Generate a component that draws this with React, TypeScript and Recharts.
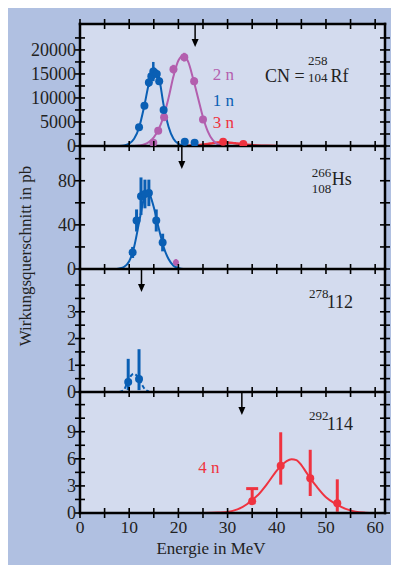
import React from 'react';
import { ComposedChart, Line, Scatter, XAxis, YAxis, ErrorBar } from 'recharts';

const FONT = '"Liberation Serif", "DejaVu Serif", serif';
const BLUE = '#0a5fb4';
const MAGENTA = '#b35fae';
const RED = '#ef3340';
const INK = '#222';
const OUTER = '#b0c0e1';
const PLOT_BG = '#d3dbee';

// energy axis (MeV)
const energyTicks = [0, 5, 10, 15, 20, 25, 30, 35, 40, 45, 50, 55, 60];
const energyLabels = [0, 10, 20, 30, 40, 50, 60];

// panel 1: CN = 258/104 Rf
const rfTicks = [0, 2500, 5000, 7500, 10000, 12500, 15000, 17500, 20000, 22500];
const rfLabels = [0, 5000, 10000, 15000, 20000];
const rf1nPoints = [
  { e: 12.0, v: 3900, err: 600 },
  { e: 13.1, v: 8400, err: 700 },
  { e: 14.0, v: 13200, err: 900 },
  { e: 14.5, v: 14500, err: 900 },
  { e: 14.9, v: 15500, err: 2000 },
  { e: 15.6, v: 15000, err: 900 },
  { e: 16.1, v: 13500, err: 800 },
  { e: 17.0, v: 7500, err: 600 },
  { e: 21.3, v: 900, err: 200 },
  { e: 23.3, v: 700, err: 200 },
];
const rf1nCurve = [
  { e: 8, v: 0 }, { e: 9, v: 100 }, { e: 10, v: 500 }, { e: 11, v: 1500 },
  { e: 12, v: 3800 }, { e: 13, v: 8000 }, { e: 14, v: 13000 }, { e: 15, v: 16200 },
  { e: 16, v: 14500 }, { e: 17, v: 8500 }, { e: 18, v: 4000 }, { e: 19, v: 1500 },
  { e: 20, v: 450 }, { e: 21, v: 100 }, { e: 22, v: 0 },
];
const rf2nPoints = [
  { e: 14.9, v: 700, err: 200 },
  { e: 15.9, v: 3200, err: 400 },
  { e: 17.1, v: 6000, err: 500 },
  { e: 19.0, v: 16000, err: 900 },
  { e: 21.2, v: 18500, err: 900 },
  { e: 23.2, v: 13500, err: 800 },
  { e: 25.0, v: 5500, err: 500 },
];
const rf2nCurve = [
  { e: 11, v: 0 }, { e: 12, v: 100 }, { e: 13, v: 300 }, { e: 14, v: 800 },
  { e: 15, v: 1800 }, { e: 16, v: 3500 }, { e: 17, v: 6200 }, { e: 18, v: 10000 },
  { e: 19, v: 14500 }, { e: 20, v: 17800 }, { e: 21, v: 18800 }, { e: 22, v: 17500 },
  { e: 23, v: 14000 }, { e: 24, v: 10000 }, { e: 25, v: 6000 }, { e: 26, v: 3000 },
  { e: 27, v: 1200 }, { e: 28, v: 400 }, { e: 29, v: 0 },
];
const rf3nPoints = [
  { e: 29.1, v: 900, err: 200 },
  { e: 33.2, v: 400, err: 150 },
];
const rf3nCurve = [
  { e: 20, v: 0 }, { e: 22, v: 30 }, { e: 24, v: 150 }, { e: 26, v: 400 },
  { e: 27, v: 600 }, { e: 28, v: 750 }, { e: 29, v: 800 }, { e: 30, v: 750 },
  { e: 31, v: 650 }, { e: 32, v: 500 }, { e: 34, v: 250 }, { e: 36, v: 100 },
  { e: 38, v: 30 }, { e: 40, v: 0 },
];
const rfArrow = [{ e: 23.4, v: 25400 }];

// panel 2: 266/108 Hs
const hsTicks = [0, 20, 40, 60, 80, 100];
const hsLabels = [0, 40, 80];
const hsPoints = [
  { e: 10.7, v: 15, err: 5 },
  { e: 11.5, v: 44, err: 10 },
  { e: 12.4, v: 66, err: 17 },
  { e: 13.2, v: 68, err: 13 },
  { e: 14.0, v: 69, err: 12 },
  { e: 15.5, v: 44, err: 10 },
  { e: 16.8, v: 24, err: 8 },
];
const hsMagentaPoints = [{ e: 19.5, v: 6, err: 3 }];
const hsCurve = [
  { e: 5, v: 0 }, { e: 7, v: 0 }, { e: 8, v: 0.5 }, { e: 9, v: 2 }, { e: 10, v: 7 },
  { e: 11, v: 20 }, { e: 12, v: 42 }, { e: 13, v: 64 }, { e: 13.5, v: 70 },
  { e: 14, v: 69 }, { e: 15, v: 56 }, { e: 16, v: 37 }, { e: 17, v: 20 },
  { e: 18, v: 9 }, { e: 19, v: 3 }, { e: 20, v: 1 }, { e: 21, v: 0 }, { e: 24, v: 0 },
];
const hsArrow = [{ e: 20.7, v: 111.5 }];

// panel 3: 278 112
const e112Ticks = [0, 0.5, 1, 1.5, 2, 2.5, 3, 3.5, 4];
const e112Labels = [0, 1, 2, 3];
const e112Points = [
  { e: 9.8, v: 0.37, err: [0.3, 0.87] },
  { e: 12.0, v: 0.49, err: [0.42, 1.11] },
];
const e112Curve = [
  { e: 8, v: 0 }, { e: 9, v: 0.1 }, { e: 9.5, v: 0.3 }, { e: 10, v: 0.5 },
  { e: 10.5, v: 0.64 }, { e: 11, v: 0.68 }, { e: 11.5, v: 0.62 }, { e: 12, v: 0.48 },
  { e: 12.5, v: 0.3 }, { e: 13, v: 0.15 }, { e: 14, v: 0.02 },
];
const e112Arrow = [{ e: 12.5, v: 4.6 }];

// panel 4: 292 114
const e114Ticks = [0, 1.5, 3, 4.5, 6, 7.5, 9, 10.5, 12];
const e114Labels = [0, 3, 6, 9];
const e114Points = [
  { e: 40.8, v: 5.24, err: [2.1, 3.7] },
  { e: 46.8, v: 3.84, err: [1.96, 3.16] },
  { e: 52.3, v: 1.07, err: [0.93, 2.66] },
];
const e114Limit = [{ e: 35.0, v: 1.3, err: [0.15, 1.4] }];
const e114LimitCap = e114Limit.map((p) => ({ e: p.e, v: p.v + p.err[1] }));
const e114Curve = [
  { e: 25, v: 0 }, { e: 28, v: 0.05 }, { e: 30, v: 0.12 }, { e: 32, v: 0.4 },
  { e: 34, v: 1.0 }, { e: 35, v: 1.45 }, { e: 36, v: 1.9 }, { e: 38, v: 3.2 },
  { e: 40, v: 4.7 }, { e: 41, v: 5.3 }, { e: 42, v: 5.75 }, { e: 43, v: 5.95 },
  { e: 44, v: 5.85 }, { e: 45, v: 5.3 }, { e: 46, v: 4.5 }, { e: 47, v: 3.7 },
  { e: 48, v: 3.0 }, { e: 50, v: 1.75 }, { e: 52, v: 1.0 }, { e: 54, v: 0.45 },
  { e: 56, v: 0.15 }, { e: 58, v: 0.04 }, { e: 60, v: 0 },
];
const e114Arrow = [{ e: 32.9, v: 13.4 }];

const W = 391;
const H = 557;
const AXIS = { stroke: '#000', strokeWidth: 2.5, strokeLinecap: 'square' as const };

const XTick = (props: any) => {
  const { x, y, payload, labels } = props;
  const v = payload.value;
  return (
    <g>
      <line x1={x} x2={x} y1={y - 5} y2={y + 5} stroke="#000" strokeWidth={1.6} />
      {labels && labels.includes(v) && (
        <text x={x} y={y + 20} textAnchor="middle" fontFamily={FONT} fontSize={17.5} fill={INK}>
          {v}
        </text>
      )}
    </g>
  );
};

const YTick = (props: any) => {
  const { x, y, payload, labels } = props;
  const v = payload.value;
  return (
    <g>
      <line x1={x - 5} x2={x + 5} y1={y} y2={y} stroke="#000" strokeWidth={1.6} />
      {labels && labels.includes(v) && (
        <text x={x - 4} y={y + 6} textAnchor="end" fontFamily={FONT} fontSize={18} fill={INK}>
          {v}
        </text>
      )}
    </g>
  );
};

const dot = (color: string, r = 4) => (p: any) => <circle cx={p.cx} cy={p.cy} r={r} fill={color} />;

const cap = (color: string) => (p: any) => (
  <line x1={p.cx - 6} x2={p.cx + 6} y1={p.cy} y2={p.cy} stroke={color} strokeWidth={3} />
);

const arrow = (p: any) => (
  <g>
    <line x1={p.cx} x2={p.cx} y1={p.cy} y2={p.cy + 18} stroke="#000" strokeWidth={1.5} />
    <path d={`M${p.cx - 3.5},${p.cy + 15} L${p.cx + 3.5},${p.cy + 15} L${p.cx},${p.cy + 23} Z`} fill="#000" />
  </g>
);

interface PanelProps {
  top: number;
  plotH: number;
  yMax: number;
  yTicks: number[];
  yLabels: number[];
  first?: boolean;
  last?: boolean;
  children?: React.ReactNode;
}

function Panel({ top, plotH, yMax, yTicks, yLabels, first, last, children }: PanelProps) {
  const bottomH = last ? 30 : 14;
  return (
    <div style={{ position: 'absolute', left: 0, top }}>
      <ComposedChart
        width={W}
        height={8 + plotH + bottomH}
        margin={{ top: first ? 0 : 8, right: 0, bottom: 0, left: 0 }}
      >
        <XAxis
          type="number" dataKey="e" domain={[0, 62]} allowDataOverflow
          ticks={energyTicks} interval={0} tickSize={0} tickMargin={0} tickLine={false}
          height={bottomH} axisLine={AXIS} tick={<XTick labels={last ? energyLabels : []} />}
        />
        {first && (
          <XAxis
            xAxisId="top" orientation="top" type="number" dataKey="e" domain={[0, 62]} allowDataOverflow
            ticks={energyTicks} interval={0} tickSize={0} tickMargin={0} tickLine={false}
            height={8} axisLine={AXIS} tick={<XTick labels={[]} />}
          />
        )}
        <YAxis
          type="number" domain={[0, yMax]} allowDataOverflow
          ticks={yTicks} interval={0} tickSize={0} tickMargin={0} tickLine={false}
          width={72} axisLine={AXIS} tick={<YTick labels={yLabels} />}
        />
        <YAxis
          yAxisId="right" orientation="right" type="number" domain={[0, yMax]} allowDataOverflow
          ticks={yTicks} interval={0} tickSize={0} tickMargin={0} tickLine={false}
          width={14} axisLine={AXIS} tick={<YTick labels={[]} />}
        />
        {children}
      </ComposedChart>
    </div>
  );
}

const txt = { fontFamily: FONT, fill: INK };

export default function App() {
  return (
    <div style={{ position: 'relative', width: W, height: H, background: OUTER }}>
      <div style={{ position: 'absolute', left: 72, top: 16, width: 305, height: 489, background: PLOT_BG }} />

      <Panel top={8} plotH={122} yMax={25400} yTicks={rfTicks} yLabels={rfLabels} first>
        <Line data={rf3nCurve} dataKey="v" type="monotone" stroke={RED} strokeWidth={2.5} dot={false} isAnimationActive={false} />
        <Line data={rf2nCurve} dataKey="v" type="monotone" stroke={MAGENTA} strokeWidth={2} dot={false} isAnimationActive={false} />
        <Line data={rf1nCurve} dataKey="v" type="monotone" stroke={BLUE} strokeWidth={2} dot={false} isAnimationActive={false} />
        <Scatter data={rf3nPoints} dataKey="v" shape={dot(RED)} isAnimationActive={false}>
          <ErrorBar dataKey="err" direction="y" width={0} stroke={RED} strokeWidth={2.5} isAnimationActive={false} />
        </Scatter>
        <Scatter data={rf2nPoints} dataKey="v" shape={dot(MAGENTA)} isAnimationActive={false}>
          <ErrorBar dataKey="err" direction="y" width={0} stroke={MAGENTA} strokeWidth={2.5} isAnimationActive={false} />
        </Scatter>
        <Scatter data={rf1nPoints} dataKey="v" shape={dot(BLUE)} isAnimationActive={false}>
          <ErrorBar dataKey="err" direction="y" width={0} stroke={BLUE} strokeWidth={2.5} isAnimationActive={false} />
        </Scatter>
        <Scatter data={rfArrow} dataKey="v" shape={arrow} isAnimationActive={false} />
      </Panel>

      <Panel top={130} plotH={123} yMax={111.5} yTicks={hsTicks} yLabels={hsLabels}>
        <Line data={hsCurve} dataKey="v" type="monotone" stroke={BLUE} strokeWidth={2} dot={false} isAnimationActive={false} />
        <Scatter data={hsMagentaPoints} dataKey="v" shape={dot(MAGENTA, 3)} isAnimationActive={false}>
          <ErrorBar dataKey="err" direction="y" width={0} stroke={MAGENTA} strokeWidth={2.5} isAnimationActive={false} />
        </Scatter>
        <Scatter data={hsPoints} dataKey="v" shape={dot(BLUE)} isAnimationActive={false}>
          <ErrorBar dataKey="err" direction="y" width={0} stroke={BLUE} strokeWidth={3} isAnimationActive={false} />
        </Scatter>
        <Scatter data={hsArrow} dataKey="v" shape={arrow} isAnimationActive={false} />
      </Panel>

      <Panel top={253} plotH={123} yMax={4.6} yTicks={e112Ticks} yLabels={e112Labels}>
        <Line data={e112Curve} dataKey="v" type="monotone" stroke={BLUE} strokeWidth={2} strokeDasharray="4 2.5" dot={false} isAnimationActive={false} />
        <Scatter data={e112Points} dataKey="v" shape={dot(BLUE)} isAnimationActive={false}>
          <ErrorBar dataKey="err" direction="y" width={0} stroke={BLUE} strokeWidth={3} isAnimationActive={false} />
        </Scatter>
        <Scatter data={e112Arrow} dataKey="v" shape={arrow} isAnimationActive={false} />
      </Panel>

      <Panel top={376} plotH={121} yMax={13.4} yTicks={e114Ticks} yLabels={e114Labels} last>
        <Line data={e114Curve} dataKey="v" type="monotone" stroke={RED} strokeWidth={2} dot={false} isAnimationActive={false} />
        <Scatter data={e114Points} dataKey="v" shape={dot(RED)} isAnimationActive={false}>
          <ErrorBar dataKey="err" direction="y" width={0} stroke={RED} strokeWidth={3} isAnimationActive={false} />
        </Scatter>
        <Scatter data={e114Limit} dataKey="v" shape={dot(RED)} isAnimationActive={false}>
          <ErrorBar dataKey="err" direction="y" width={0} stroke={RED} strokeWidth={3} isAnimationActive={false} />
        </Scatter>
        <Scatter data={e114LimitCap} dataKey="v" shape={cap(RED)} isAnimationActive={false} />
        <Scatter data={e114Arrow} dataKey="v" shape={arrow} isAnimationActive={false} />
      </Panel>

      <svg width={W} height={H} style={{ position: 'absolute', left: 0, top: 0, pointerEvents: 'none' }}>
        {/* panel 1 */}
        <text x={257} y={74} fontSize={18} {...txt}>CN =</text>
        <text x={300} y={57} fontSize={13} {...txt}>258</text>
        <text x={300} y={74} fontSize={13} {...txt}>104</text>
        <text x={322.5} y={74} fontSize={18} {...txt}>Rf</text>
        <text x={204.7} y={72} fontSize={17} fontFamily={FONT} fill={MAGENTA}>2 n</text>
        <text x={204.7} y={98} fontSize={17} fontFamily={FONT} fill={BLUE}>1 n</text>
        <text x={204.7} y={120} fontSize={17} fontFamily={FONT} fill={RED}>3 n</text>
        {/* panel 2 */}
        <text x={303.7} y={169} fontSize={13} {...txt}>266</text>
        <text x={303.7} y={185} fontSize={13} {...txt}>108</text>
        <text x={323.7} y={177} fontSize={18} {...txt}>Hs</text>
        {/* panel 3 */}
        <text x={301} y={290} fontSize={13} {...txt}>278</text>
        <text x={318.7} y={300} fontSize={18} {...txt}>112</text>
        {/* panel 4 */}
        <text x={301} y={412} fontSize={13} {...txt}>292</text>
        <text x={318.7} y={422} fontSize={18} {...txt}>114</text>
        <text x={190.3} y={465} fontSize={17} fontFamily={FONT} fill={RED}>4 n</text>
        {/* axis titles */}
        <text x={203} y={546} fontSize={17} textAnchor="middle" {...txt}>Energie in MeV</text>
        <text
          x={17} y={248} fontSize={17} textAnchor="middle" dominantBaseline="central"
          transform="rotate(-90 17 248)" {...txt}
        >
          Wirkungsquerschnitt in pb
        </text>
      </svg>
    </div>
  );
}
